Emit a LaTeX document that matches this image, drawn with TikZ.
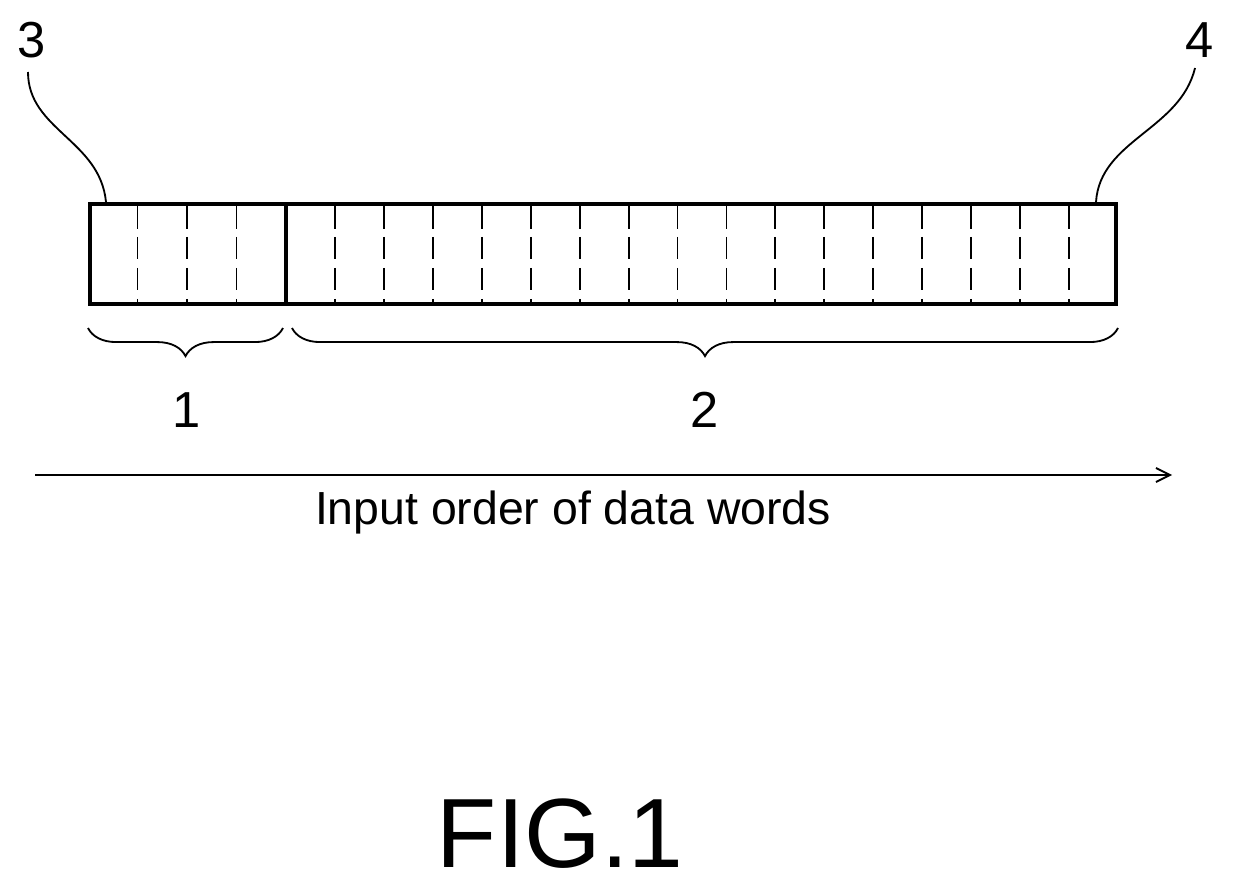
\documentclass[tikz,border=0pt]{standalone}
\usepackage{fontspec}
\setmainfont{Liberation Sans}
\usetikzlibrary{decorations.pathreplacing,arrows.meta}
\begin{document}
\begin{tikzpicture}[x=0.025cm,y=-0.025cm,
  box/.style={line width=2.6pt},
  cell/.style={line width=1.3pt,dash pattern=on 16pt off 6pt},
  brc/.style={decorate,decoration={brace,mirror,amplitude=20pt},line width=1.3pt},
  lead/.style={line width=1.3pt},
  lbl/.style={font=\fontsize{36}{38}\selectfont}]
\useasboundingbox (0,0) rectangle (1235,888);
\node[box,draw,minimum width=1030*0.025cm-2.6pt,minimum height=104*0.025cm-2.6pt,inner sep=0,anchor=north west] (bar) at (88,202) {};
\draw[box] (286,202) coordinate (s1) -- (286,306) coordinate (s2);
\foreach \x in {137.5,187,236.5} \draw[cell] (\x,206) -- (\x,302);
\foreach \i in {1,...,16} \draw[cell] ({286+\i*48.94},206) -- ({286+\i*48.94},302);
\coordinate (b1a) at (88,328); \coordinate (b1b) at (283,328);
\coordinate (b2a) at (292,328); \coordinate (b2b) at (1118,328);
\draw[brc] (b1a) -- (b1b);
\draw[brc] (b2a) -- (b2b);
\node[lbl] (n1) at (187,410) {1};
\node[lbl] (n2) at (705,410) {2};
\node[lbl] (n3) at (32,40) {3};
\node[lbl] (n4) at (1200,40) {4};
\coordinate (a3) at (106,202);
\coordinate (a4) at (1096,202);
\draw[lead] (28,72) .. controls (28,130) and (100,140) .. (a3);
\draw[lead] (1195,68) .. controls (1180,130) and (1100,140) .. (a4);
\coordinate (ar0) at (35,475); \coordinate (ar1) at (1172,475);
\draw[line width=1.3pt,-{Straight Barb[length=10pt,width=10pt]}] (ar0) -- (ar1);
\node[font=\fontsize{33}{36}\selectfont] (lab) at (573,512) {Input order of data words};
\node[font=\fontsize{70}{72}\selectfont] (fig) at (560,834) {FIG.1};
\end{tikzpicture}
\end{document}
